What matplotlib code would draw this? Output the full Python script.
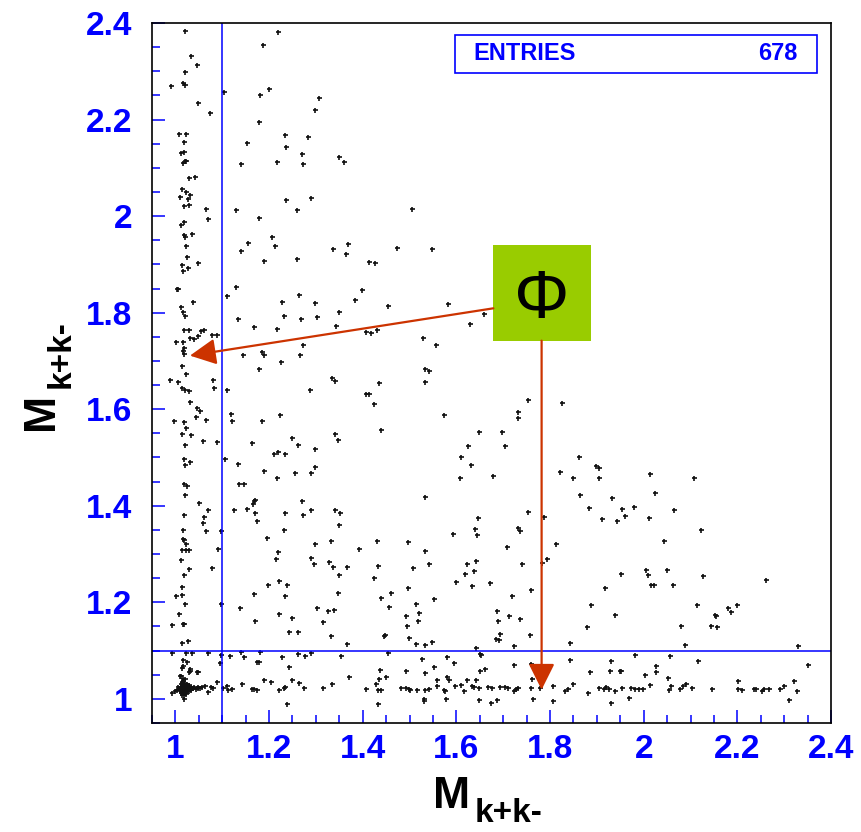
import numpy as np
import matplotlib
matplotlib.use('Agg')
import matplotlib.pyplot as plt
from matplotlib.patches import Rectangle
from matplotlib.ticker import FixedLocator

plt.rcParams['font.family'] = ['Liberation Sans', 'DejaVu Sans']

# K+K- invariant mass pairs (GeV), grouped by area of the plane
upper_left = [
    (1.021, 2.384), (1.220, 2.381), (1.187, 2.355), (1.033, 2.332), (1.046, 2.313), (1.021, 2.299),
    (0.991, 2.270), (1.016, 2.275), (1.021, 2.272), (1.103, 2.258), (1.199, 2.263), (1.181, 2.251),
    (1.306, 2.244), (1.049, 2.235), (1.299, 2.219), (1.074, 2.214), (1.179, 2.195), (1.008, 2.170),
    (1.022, 2.170), (1.233, 2.167), (1.284, 2.164), (1.019, 2.154), (1.152, 2.151), (1.236, 2.144),
    (1.011, 2.130), (1.019, 2.133), (1.270, 2.129), (1.350, 2.123), (1.361, 2.113), (1.141, 2.108),
    (1.217, 2.113), (1.273, 2.107), (1.016, 2.110), (1.021, 2.115), (1.023, 2.114), (1.028, 2.078),
    (1.042, 2.081), (1.013, 2.057), (1.022, 2.050), (1.031, 2.044), (1.009, 2.040), (1.026, 2.035),
    (1.019, 2.021), (1.029, 2.024), (1.237, 2.033), (1.289, 2.037), (1.066, 2.015), (1.130, 2.012),
    (1.259, 2.013), (1.506, 2.014), (1.069, 1.994), (1.179, 1.997), (1.012, 1.982), (1.019, 1.988),
    (1.018, 1.960), (1.021, 1.957), (1.036, 1.962), (1.023, 1.938), (1.207, 1.957), (1.156, 1.944),
    (1.212, 1.938), (1.368, 1.942), (1.336, 1.932), (1.473, 1.933), (1.547, 1.932),
]

mid_left = [
    (1.140, 1.927), (1.364, 1.921), (1.025, 1.915), (1.189, 1.908), (1.259, 1.912), (1.049, 1.902),
    (1.015, 1.898), (1.026, 1.893), (1.017, 1.886), (1.414, 1.905), (1.427, 1.902), (1.130, 1.853),
    (1.004, 1.848), (1.006, 1.850), (1.111, 1.835), (1.264, 1.837), (1.398, 1.846), (1.383, 1.827),
    (1.038, 1.822), (1.227, 1.822), (1.299, 1.820), (1.011, 1.812), (1.455, 1.813), (1.017, 1.802),
    (1.021, 1.793), (1.349, 1.801), (1.134, 1.786), (1.231, 1.793), (1.269, 1.786), (1.302, 1.791),
    (1.167, 1.771), (1.218, 1.767), (1.343, 1.772), (1.019, 1.765), (1.028, 1.764), (1.055, 1.762),
    (1.061, 1.765), (1.078, 1.754), (1.089, 1.754), (1.031, 1.747), (1.039, 1.746), (1.048, 1.751),
    (1.001, 1.739), (1.016, 1.740), (1.018, 1.727), (1.017, 1.721), (1.019, 1.714), (1.408, 1.759),
    (1.418, 1.758), (1.431, 1.765), (1.529, 1.748), (1.557, 1.733), (1.273, 1.733), (1.185, 1.718),
    (1.189, 1.713), (1.145, 1.712), (1.265, 1.712), (1.226, 1.697), (1.015, 1.690), (1.179, 1.683),
    (1.023, 1.672), (1.532, 1.684), (1.542, 1.679), (0.988, 1.661), (1.005, 1.656), (1.080, 1.661),
    (1.335, 1.665), (1.341, 1.658), (1.434, 1.654), (1.533, 1.656), (1.013, 1.643), (1.020, 1.640),
    (1.028, 1.637), (1.083, 1.643), (1.110, 1.640), (1.287, 1.639), (1.408, 1.632), (1.413, 1.631),
    (1.031, 1.615), (1.424, 1.611), (1.047, 1.602), (1.052, 1.597), (1.119, 1.591), (1.223, 1.589),
    (1.043, 1.583), (0.996, 1.575), (1.019, 1.573), (1.065, 1.577), (1.120, 1.576), (1.184, 1.576),
    (1.022, 1.561), (1.014, 1.549), (1.034, 1.546), (1.439, 1.557), (1.341, 1.549), (1.348, 1.536),
    (1.058, 1.534), (1.088, 1.532), (1.249, 1.540), (1.261, 1.526), (1.298, 1.518), (1.163, 1.529),
    (1.021, 1.525), (1.210, 1.507), (1.220, 1.511), (1.233, 1.508), (1.105, 1.496), (1.019, 1.497),
    (1.031, 1.491), (1.021, 1.485), (1.134, 1.487), (1.189, 1.472), (1.255, 1.467), (1.289, 1.467),
    (1.299, 1.481), (1.218, 1.457),
]

low_left = [
    (1.018, 1.445), (1.025, 1.441), (1.135, 1.445), (1.146, 1.445), (1.021, 1.422), (1.051, 1.406),
    (1.168, 1.409), (1.166, 1.403), (1.170, 1.411), (1.270, 1.410), (1.532, 1.419), (1.069, 1.392),
    (1.125, 1.392), (1.152, 1.394), (1.169, 1.386), (1.290, 1.391), (1.340, 1.392), (1.352, 1.384),
    (1.018, 1.381), (1.060, 1.377), (1.234, 1.384), (1.273, 1.380), (1.175, 1.369), (1.058, 1.364),
    (1.349, 1.361), (1.016, 1.350), (1.066, 1.347), (1.097, 1.347), (1.231, 1.350), (1.196, 1.334),
    (1.017, 1.332), (1.019, 1.329), (1.023, 1.320), (1.332, 1.327), (1.430, 1.326), (1.497, 1.324),
    (1.298, 1.321), (1.015, 1.309), (1.022, 1.309), (1.029, 1.309), (1.090, 1.310), (1.393, 1.310),
    (1.532, 1.306), (1.219, 1.304), (1.011, 1.288), (1.214, 1.290), (1.290, 1.292), (1.296, 1.280),
    (1.329, 1.283), (1.336, 1.274), (1.367, 1.273), (1.433, 1.275), (1.508, 1.272), (1.542, 1.279),
    (1.029, 1.268), (1.079, 1.272), (1.018, 1.257), (1.350, 1.256), (1.424, 1.250), (1.222, 1.244),
    (1.238, 1.236), (1.014, 1.231), (1.197, 1.235), (1.496, 1.230), (1.001, 1.214), (1.015, 1.215),
    (1.167, 1.218), (1.234, 1.214), (1.348, 1.220), (1.439, 1.209), (1.461, 1.219), (1.553, 1.207),
    (1.021, 1.196), (1.097, 1.197), (1.138, 1.188), (1.303, 1.189), (1.326, 1.183), (1.338, 1.185),
    (1.457, 1.190), (1.514, 1.196), (1.521, 1.177), (1.008, 1.175), (1.222, 1.175), (1.492, 1.172),
    (1.248, 1.168), (1.170, 1.161), (1.017, 1.155), (1.019, 1.155), (0.993, 1.153), (1.315, 1.159),
    (1.519, 1.162), (1.494, 1.150), (1.243, 1.139), (1.262, 1.139), (1.333, 1.130), (1.446, 1.131),
    (1.448, 1.133), (1.498, 1.127), (1.014, 1.115), (1.026, 1.120), (1.367, 1.113), (1.513, 1.114),
    (1.533, 1.112), (1.549, 1.117),
]

band_left = [
    (0.993, 1.096), (1.023, 1.095), (1.036, 1.095), (1.069, 1.096), (1.098, 1.090), (1.096, 1.074),
    (1.116, 1.088), (1.141, 1.097), (1.146, 1.087), (1.180, 1.098), (1.262, 1.092), (1.276, 1.088),
    (1.289, 1.096), (1.353, 1.088), (1.455, 1.096), (1.228, 1.086), (1.016, 1.081), (1.025, 1.076),
    (1.174, 1.077), (1.178, 1.077), (1.526, 1.083), (1.242, 1.067), (1.552, 1.065), (1.015, 1.063),
    (1.031, 1.061), (1.028, 1.055), (1.047, 1.055), (1.436, 1.059), (1.492, 1.057), (1.534, 1.053),
    (1.011, 1.048), (1.017, 1.041), (1.371, 1.045), (1.434, 1.041), (1.450, 1.045), (1.558, 1.040),
    (1.190, 1.040), (1.205, 1.034), (1.248, 1.039), (1.263, 1.032), (1.274, 1.023), (1.335, 1.030),
    (1.088, 1.034), (1.428, 1.031), (0.993, 1.013), (1.000, 1.016), (1.038, 1.023), (1.049, 1.023),
    (1.056, 1.024), (1.064, 1.027), (1.070, 1.014), (1.075, 1.024), (1.080, 1.023), (1.101, 1.023),
    (1.111, 1.027), (1.112, 1.018), (1.121, 1.020), (1.143, 1.030), (1.163, 1.021), (1.167, 1.020),
    (1.174, 1.019), (1.222, 1.019), (1.231, 1.023), (1.235, 1.024), (1.315, 1.023), (1.407, 1.021),
    (1.432, 1.019), (1.439, 1.019), (1.481, 1.023), (1.493, 1.022), (1.498, 1.021), (1.502, 1.018),
    (1.516, 1.019), (1.534, 1.019), (1.542, 1.021), (1.530, 1.000), (1.531, 0.995), (1.432, 0.990),
    (1.239, 0.989), (1.018, 1.000), (1.016, 1.068), (1.031, 1.058), (1.048, 1.056), (1.010, 1.048),
]

# dense phi-phi corner
phi_core = [
    (1.010, 1.020), (1.012, 1.024), (1.014, 1.018), (1.016, 1.022), (1.018, 1.026), (1.020, 1.020),
    (1.015, 1.015), (1.013, 1.028), (1.017, 1.030), (1.019, 1.016), (1.021, 1.024), (1.023, 1.019),
    (1.011, 1.013), (1.008, 1.022), (1.016, 1.012), (1.022, 1.028), (1.025, 1.022), (1.027, 1.025),
    (1.018, 1.020), (1.014, 1.021), (1.012, 1.017), (1.020, 1.027), (1.024, 1.017), (1.017, 1.024),
    (1.015, 1.027), (1.019, 1.033), (1.013, 1.035), (1.021, 1.013), (1.009, 1.016), (1.026, 1.019),
    (1.029, 1.023), (1.031, 1.021), (1.033, 1.025), (1.036, 1.022), (1.040, 1.024), (1.044, 1.021),
    (1.048, 1.025), (1.052, 1.023), (1.006, 1.025), (1.004, 1.018), (1.018, 1.009), (1.014, 1.007),
    (1.022, 1.010), (1.016, 1.038), (1.020, 1.041), (1.011, 1.031), (1.028, 1.029), (1.024, 1.031),
    (1.030, 1.016), (1.034, 1.018), (1.019, 1.022), (1.016, 1.019), (1.013, 1.023), (1.021, 1.021),
    (1.017, 1.017),
]

mid_right = [
    (1.583, 1.818), (1.658, 1.798), (1.630, 1.777), (1.754, 1.620), (1.826, 1.613), (1.573, 1.589),
    (1.731, 1.594), (1.731, 1.582), (1.648, 1.552), (1.698, 1.553), (1.625, 1.523), (1.703, 1.523),
    (1.609, 1.500), (1.632, 1.485), (1.861, 1.502), (1.899, 1.483), (1.904, 1.478), (1.821, 1.470),
    (1.848, 1.458), (1.905, 1.458), (2.013, 1.465), (2.108, 1.458), (1.608, 1.458), (1.679, 1.461),
    (1.863, 1.423), (1.932, 1.417), (2.024, 1.426), (1.883, 1.395), (1.910, 1.372), (1.944, 1.369),
    (1.953, 1.394), (1.960, 1.378), (1.980, 1.398), (2.011, 1.374), (2.064, 1.392), (1.753, 1.388),
    (1.788, 1.377), (1.646, 1.374), (1.640, 1.351), (1.644, 1.339), (1.593, 1.341), (1.731, 1.353),
    (1.736, 1.348), (2.123, 1.350), (2.044, 1.327), (1.709, 1.315), (1.813, 1.321), (1.782, 1.281),
    (1.794, 1.290), (1.741, 1.279), (1.623, 1.279), (1.642, 1.286), (1.619, 1.259), (1.637, 1.264),
    (1.599, 1.242), (1.634, 1.234), (1.671, 1.239), (1.760, 1.226), (1.719, 1.214), (1.952, 1.259),
    (1.918, 1.230), (2.005, 1.267), (2.010, 1.256), (2.015, 1.236), (2.021, 1.236), (2.050, 1.267),
    (2.062, 1.236), (2.126, 1.254), (2.261, 1.247), (1.888, 1.194), (1.939, 1.173), (2.114, 1.194),
    (2.179, 1.188), (2.186, 1.179), (2.199, 1.194), (2.153, 1.173), (2.155, 1.172), (2.143, 1.150),
    (2.156, 1.149), (2.079, 1.151), (1.687, 1.181), (1.688, 1.161), (1.712, 1.171), (1.736, 1.166),
    (1.693, 1.135), (1.685, 1.123), (1.692, 1.121), (1.757, 1.132), (1.880, 1.148), (2.089, 1.112),
    (1.843, 1.115), (1.724, 1.110), (2.330, 1.110), (1.642, 1.105),
]

band_right = [
    (1.650, 1.092), (1.653, 1.090), (1.580, 1.086), (1.595, 1.075), (1.982, 1.091), (2.056, 1.088),
    (1.930, 1.079), (1.843, 1.081), (2.117, 1.079), (2.350, 1.071), (1.724, 1.070), (1.759, 1.073),
    (2.027, 1.069), (2.027, 1.056), (1.661, 1.062), (1.650, 1.057), (1.885, 1.055), (1.928, 1.057),
    (1.949, 1.057), (1.951, 1.057), (2.002, 1.050), (2.052, 1.044), (1.580, 1.045), (1.585, 1.040),
    (1.623, 1.039), (1.641, 1.039), (1.762, 1.041), (2.201, 1.037), (2.320, 1.037),
    (1.558, 1.026), (1.575, 1.017), (1.573, 1.019), (1.597, 1.026), (1.610, 1.028), (1.617, 1.017),
    (1.634, 1.027), (1.637, 1.025), (1.649, 1.023), (1.667, 1.025), (1.677, 1.023), (1.694, 1.025),
    (1.703, 1.025), (1.710, 1.023), (1.724, 1.016), (1.728, 1.020), (1.731, 1.023), (1.759, 1.023),
    (1.779, 1.023), (1.806, 1.026), (1.833, 1.017), (1.839, 1.020), (1.850, 1.031), (1.881, 1.012),
    (1.905, 1.023), (1.915, 1.021), (1.920, 1.025), (1.926, 1.021), (1.939, 1.017), (1.953, 1.023),
    (1.972, 1.023), (1.981, 1.021), (1.991, 1.021), (1.998, 1.021), (2.013, 1.029), (2.055, 1.019),
    (2.059, 1.026), (2.078, 1.020), (2.085, 1.026), (2.090, 1.031), (2.104, 1.023), (2.145, 1.020),
    (2.201, 1.021), (2.211, 1.019), (2.235, 1.021), (2.240, 1.021), (2.253, 1.017), (2.256, 1.021),
    (2.268, 1.021), (2.292, 1.021), (2.299, 1.026), (2.327, 1.017),
    (1.577, 0.999), (1.649, 0.997), (1.674, 0.992), (1.687, 0.997), (1.764, 1.000), (1.806, 0.995),
    (1.930, 0.992), (1.968, 1.001), (2.311, 0.997),
]

n_entries = 678
cut_value = 1.1
tick_values = [1.0, 1.2, 1.4, 1.6, 1.8, 2.0, 2.2, 2.4]
tick_labels = ['1', '1.2', '1.4', '1.6', '1.8', '2', '2.2', '2.4']

BLUE = '#0000ff'
ARROW = '#cc3300'

pts = np.array(upper_left + mid_left + low_left + band_left + phi_core + mid_right + band_right)

fig = plt.figure(figsize=(8.61, 8.32), dpi=100)
ax = fig.add_axes([152 / 861, 1 - 723 / 832, 679 / 861, 700 / 832])

ax.plot(pts[:, 0], pts[:, 1], linestyle='none', marker='+', ms=3.6, mew=1.2, color='#111111')

# phi mass cuts
ax.axvline(cut_value, color=BLUE, lw=1.1)
ax.axhline(cut_value, color=BLUE, lw=1.1)

ax.set_xlim(0.95, 2.4)
ax.set_ylim(0.95, 2.4)

minors = np.round(np.arange(0.95, 2.401, 0.05), 2)
for axis in (ax.xaxis, ax.yaxis):
    axis.set_major_locator(FixedLocator(tick_values))
    axis.set_minor_locator(FixedLocator(minors))
ax.set_xticklabels(tick_labels)
ax.set_yticklabels(tick_labels)
ax.tick_params(which='both', direction='in', color=BLUE, width=1.1,
               top=False, right=False, labelcolor=BLUE, labelsize=24)
ax.tick_params(which='major', length=9.5)
ax.tick_params(which='minor', length=5.5)
ax.tick_params(axis='x', which='both', pad=8)
ax.tick_params(axis='y', which='both', pad=14)
for lbl in ax.get_xticklabels() + ax.get_yticklabels():
    lbl.set_fontweight('bold')

for sp in ax.spines.values():
    sp.set_color('black')
    sp.set_linewidth(1.2)

# statistics box
ax.add_patch(Rectangle((0.446, 0.929), 0.533, 0.054, transform=ax.transAxes,
                       fill=False, edgecolor=BLUE, lw=1.2))
ax.text(0.474, 0.956, 'ENTRIES', transform=ax.transAxes, color=BLUE,
        fontsize=17, fontweight='bold', ha='left', va='center')
ax.text(0.951, 0.956, str(n_entries), transform=ax.transAxes, color=BLUE,
        fontsize=17, fontweight='bold', ha='right', va='center')

# axis titles
fig.text(433 / 861, 1 - 808 / 832, 'M', fontsize=32, fontweight='bold', ha='left', va='baseline')
fig.text(475 / 861, 1 - 822 / 832, 'k+k-', fontsize=24, fontweight='bold', ha='left', va='baseline')
fig.text(53 / 861, 1 - 430 / 832, 'M', fontsize=32, fontweight='bold', rotation=90,
         rotation_mode='anchor', ha='left', va='baseline')
fig.text(70 / 861, 1 - 388 / 832, 'k+k-', fontsize=24, fontweight='bold', rotation=90,
         rotation_mode='anchor', ha='left', va='baseline')

# phi label and arrows
ax.add_patch(Rectangle((1.679, 1.742), 0.208, 0.199, facecolor='#99cc00',
                       edgecolor='none', zorder=5))
ax.text(1.783, 1.788, '\u03a6', fontsize=50, ha='center', va='baseline', zorder=6)
ax.annotate('', xy=(1.031, 1.711), xytext=(1.679, 1.809),
            arrowprops=dict(arrowstyle='-|>', color=ARROW, lw=1.6, mutation_scale=40,
                            shrinkA=0, shrinkB=0), zorder=6)
ax.annotate('', xy=(1.782, 1.019), xytext=(1.782, 1.742),
            arrowprops=dict(arrowstyle='-|>', color=ARROW, lw=1.6, mutation_scale=40,
                            shrinkA=0, shrinkB=0), zorder=6)

fig.savefig('out.png', dpi=100)
